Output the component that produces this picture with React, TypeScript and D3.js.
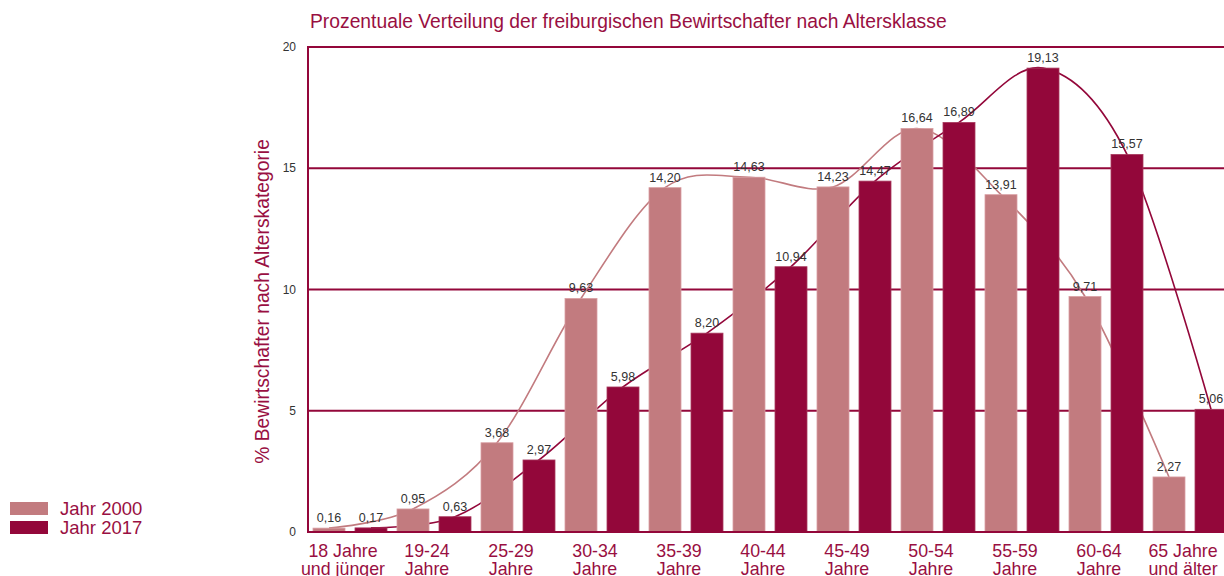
import React from 'react';
import * as d3 from 'd3';

const categories = [
  ['18 Jahre', 'und jünger'],
  ['19-24', 'Jahre'],
  ['25-29', 'Jahre'],
  ['30-34', 'Jahre'],
  ['35-39', 'Jahre'],
  ['40-44', 'Jahre'],
  ['45-49', 'Jahre'],
  ['50-54', 'Jahre'],
  ['55-59', 'Jahre'],
  ['60-64', 'Jahre'],
  ['65 Jahre', 'und älter'],
];
const jahr2000 = [0.16, 0.95, 3.68, 9.63, 14.2, 14.63, 14.23, 16.64, 13.91, 9.71, 2.27];
const jahr2017 = [0.17, 0.63, 2.97, 5.98, 8.2, 10.94, 14.47, 16.89, 19.13, 15.57, 5.06];
const yTicks = [0, 5, 10, 15, 20];
const seriesNames = ['Jahr 2000', 'Jahr 2017'];

const DARK = '#93073a';
const LIGHT = '#c27b7f';
const TEXT_RED = '#990f42';
const FONT = 'Liberation Sans, Arial, sans-serif';

const App = () => {
  const width = 1224;
  const height = 576;
  const left = 308;
  const top = 47;
  const bottom = 532;
  const step = 84;

  const x = d3.scaleBand<number>()
    .domain(d3.range(categories.length))
    .range([left, left + step * categories.length]);
  const y = d3.scaleLinear().domain([0, 20]).range([bottom, top]);

  const barW = 32;
  const pad = 5;
  const series = [jahr2000, jahr2017];
  const colors = [LIGHT, DARK];
  const barX = (i, s) => (x(i) as number) + pad + s * (barW + 10);

  const fmt = (v) => v.toFixed(2).replace('.', ',');

  // smoothed lines through the bar tops, drawn behind the bars
  const lineGen = (s) => d3.line<number>()
    .x((d, i) => barX(i, s) + barW / 2)
    .y(d => y(d))
    .curve(d3.curveCardinal.tension(0));

  return (
    <svg width={width} height={height} style={{ position: 'absolute', left: 0, top: 0 }} fontFamily={FONT}>
      <text x={310} y={28} fontSize={19.3} fill={TEXT_RED}>
        Prozentuale Verteilung der freiburgischen Bewirtschafter nach Altersklasse
      </text>

      {yTicks.filter(t => t > 0).map(t => (
        <line key={t} x1={left} x2={width} y1={y(t)} y2={y(t)} stroke={DARK} strokeWidth={2} />
      ))}
      {yTicks.map(t => (
        <text key={`t${t}`} x={296} y={y(t) + 4} fontSize={12} fill="#333" textAnchor="end">{t}</text>
      ))}

      {series.map((vals, s) => (
        <path key={`l${s}`} d={lineGen(s)(vals) || ''} fill="none" stroke={colors[s]} strokeWidth={1.6} />
      ))}

      {series.map((vals, s) => vals.map((v, i) => (
        <rect
          key={`b${s}-${i}`}
          x={barX(i, s)}
          y={y(v)}
          width={barW}
          height={bottom - y(v)}
          fill={colors[s]}
          stroke={s === 0 ? '#d99ea2' : '#a83a5e'}
          strokeWidth={0.8}
        />
      )))}

      {series.map((vals, s) => vals.map((v, i) => (
        <text
          key={`v${s}-${i}`}
          x={barX(i, s) + barW / 2}
          y={y(v) - 6}
          fontSize={12.5}
          fill="#333"
          textAnchor="middle"
        >
          {fmt(v)}
        </text>
      )))}

      <line x1={left} x2={width} y1={bottom} y2={bottom} stroke={DARK} strokeWidth={2} />
      <line x1={left} x2={left} y1={top - 1} y2={bottom + 1} stroke={DARK} strokeWidth={2} />

      {categories.map((c, i) => (
        <text key={`c${i}`} fontSize={17.8} fill={TEXT_RED} textAnchor="middle">
          <tspan x={(x(i) as number) + step / 2 - 7} y={557}>{c[0]}</tspan>
          <tspan x={(x(i) as number) + step / 2 - 7} y={575}>{c[1]}</tspan>
        </text>
      ))}

      <text
        transform={`translate(269, ${(top + bottom) / 2 + 12}) rotate(-90)`}
        fontSize={19.3}
        fill={TEXT_RED}
        textAnchor="middle"
      >
        % Bewirtschafter nach Alterskategorie
      </text>

      {seriesNames.map((n, s) => (
        <g key={n} transform={`translate(10, ${502 + s * 19})`}>
          <rect width={38} height={13} fill={colors[s]} />
          <text x={50} y={13} fontSize={18.5} fill={TEXT_RED}>{n}</text>
        </g>
      ))}
    </svg>
  );
};

export default App;
